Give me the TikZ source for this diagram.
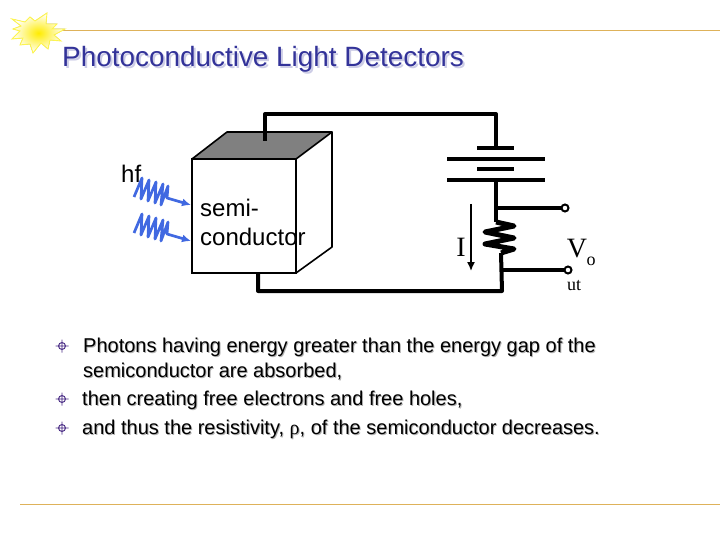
\documentclass[tikz,border=0pt]{standalone}
\usepackage{fontspec}
\usetikzlibrary{arrows.meta}
\setmainfont{Liberation Sans}
\newfontfamily\serifface{Liberation Serif}
\definecolor{titleblue}{RGB}{51,51,153}
\definecolor{titleshade}{RGB}{205,205,230}
\definecolor{ruleorange}{RGB}{222,178,90}
\definecolor{photonblue}{RGB}{65,105,225}
\definecolor{bulletpurple}{RGB}{70,40,130}
\definecolor{topgray}{RGB}{128,128,128}
\newcommand{\shadedtext}[3][1.5pt]{\leavevmode\rlap{\hspace{#1}\raisebox{-#1}{\color{#2}#3}}#3}
\tikzset{
  wire/.style={line width=4pt},
  cubeedge/.style={line width=1.6pt,line join=round},
  plate/.style={line width=4.5pt},
  photon/.style={photonblue,line width=2.7pt,line join=round},
  bodyline/.style={anchor=base west,inner sep=0pt,font=\fontsize{20}{22}\selectfont},
  cubetext/.style={anchor=base west,inner sep=0pt,font=\fontsize{24}{28}\selectfont},
  terminal/.style={circle,draw,line width=2pt,fill=white,inner sep=0pt,minimum size=7pt},
}
\begin{document}
\begin{tikzpicture}[x=1pt,y=-1pt,>={Latex[length=9pt,width=8pt]}]
\useasboundingbox (0,0) rectangle (720,540);
% rules and sun
\draw[ruleorange,line width=0.8pt] (62,30) -- (720,30);
\draw[ruleorange,line width=0.8pt] (20,504) -- (720,504);
\fill[inner color=yellow!85!orange,outer color=white,draw=yellow!70!white,line width=0.9pt,line join=miter]
  (12,19) -- (25,22) -- (30,17) -- (35,21) -- (47,13) -- (46,24) -- (57,24) -- (52,29) -- (65,29)
  -- (54,35) -- (61,41) -- (50,40) -- (48,49) -- (41,43) -- (33,53) -- (30,44) -- (20,45) -- (23,38)
  -- (12,39) -- (20,31) -- (13,29) -- (21,26) -- cycle;
\node[anchor=base west,inner sep=0pt,text=titleblue,font=\fontsize{27.9}{30}\selectfont] (title) at (62,66.5)
  {\shadedtext[2pt]{titleshade}{Photoconductive Light Detectors}};
% cube
\fill[topgray] (192,159) -- (227,132) -- (332,132) -- (296,159) -- cycle;
\draw[cubeedge] (192,159) -- (227,132) -- (332,132) -- (296,159);
\draw[cubeedge] (332,132) -- (332,247) -- (296,273);
\draw[line width=2.4pt,line join=miter] (192,159) rectangle (296,273);
\node[cubetext] (semi) at (200,217) {semi-};
\node[cubetext] (cond) at (200,245) {conductor};
\node[cubetext] (hf) at (121,183) {hf};
% photons
\foreach \dy in {0,36}{
  \draw[photon,->] (134,197+\dy) -- (142,178+\dy) -- (141,199+\dy) -- (149,180+\dy) -- (148,201+\dy)
    -- (156,182+\dy) -- (155,203+\dy) -- (163,184+\dy) -- (161,205+\dy) -- (168,186+\dy) -- (167,198+\dy) -- (191,205+\dy);
}
% circuit
\coordinate (cubetop) at (265,141);
\coordinate (cubebot) at (258,273);
\coordinate (bat) at (496,148);
\coordinate (batlow) at (496,180);
\coordinate (res) at (501,253);
\node[terminal] (outa) at (565,208) {};
\node[terminal] (outb) at (568,270) {};
\draw[wire,line join=round] (cubetop) -- (265,114) -| (bat);
\draw[plate] (477,148) -- (514,148);
\draw[plate] (447,159) -- (545,159);
\draw[plate] (477,169) -- (514,169);
\draw[plate] (447,180) -- (545,180);
\draw[wire] (batlow) -- (496,222);
\draw[wire] (496,208) -- (outa);
\draw[line width=5pt,line join=round] (496,222) -- (514,226) -- (485,232) -- (514,238) -- (485,244) -- (514,249) -- (501,253);
\draw[wire,line join=round] (res) -- (502,291) -| (cubebot);
\draw[wire] (502,270) -- (outb);
\draw[line width=1.5pt,->] (471,204) -- (471,271);
% labels
\node[anchor=base,inner sep=0pt,font=\serifface\fontsize{28}{30}\selectfont] (cur) at (461,256) {I};
\node[anchor=base,inner sep=0pt,font=\serifface\fontsize{28}{30}\selectfont] (vout) at (577,258) {V};
\node[anchor=base,inner sep=0pt,font=\serifface\fontsize{18}{18}\selectfont] (vo) at (591,265) {o};
\node[anchor=base,inner sep=0pt,font=\serifface\fontsize{18}{18}\selectfont] (vut) at (574,290) {ut};
% bullets
\foreach \by in {346,399,428}{
  \draw[bulletpurple,line width=0.9pt] (62,\by) circle (3.5) (55.5,\by) -- (68.5,\by) (62,\by-6.5) -- (62,\by+6.5);
}
\node[bodyline] (lineone) at (83,352) {\shadedtext[1pt]{black!30}{Photons having energy greater than the energy gap of the}};
\node[bodyline] (linetwo) at (83,377) {\shadedtext[1pt]{black!30}{semiconductor are absorbed,}};
\node[bodyline] (linethree) at (82,405) {\shadedtext[1pt]{black!30}{then creating free electrons and free holes,}};
\node[bodyline] (linefour) at (82,434) {\shadedtext[1pt]{black!30}{and thus the resistivity, {\serifface ρ}, of the semiconductor decreases.}};
\end{tikzpicture}
\end{document}
